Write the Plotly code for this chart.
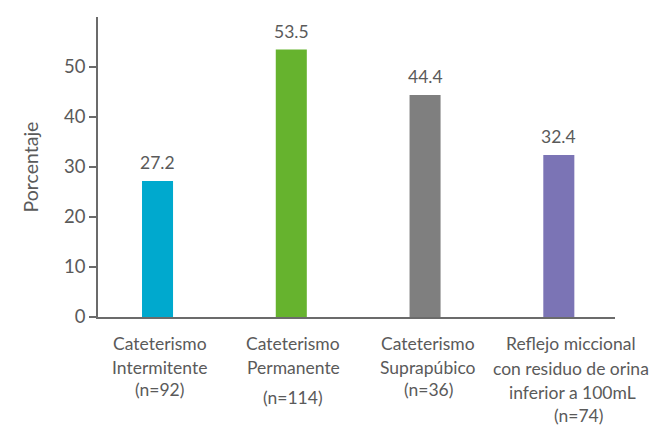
import plotly.graph_objects as go

categories = ["Cateterismo Intermitente", "Cateterismo Permanente",
              "Cateterismo Suprapúbico", "Reflejo miccional con residuo de orina inferior a 100mL"]
label_lines = [
    ["Cateterismo", "Intermitente", "(n=92)"],
    ["Cateterismo", "Permanente", "(n=114)"],
    ["Cateterismo", "Suprapúbico", "(n=36)"],
    ["Reflejo miccional", "con residuo de orina", "inferior a 100mL", "(n=74)"],
]
values = [27.2, 53.5, 44.4, 32.4]
colors = ["#00A9CE", "#66B32E", "#7F7F7F", "#7B74B5"]
yticks = [0, 10, 20, 30, 40, 50]

TXT = "#5a5a5a"
FONT = "Lato"

xs = list(range(len(categories)))
fig = go.Figure(go.Bar(x=xs, y=values, marker_color=colors, width=0.232,
                       marker_line_width=0, hoverinfo="skip"))

annotations = []
for i, v in enumerate(values):
    annotations.append(dict(x=i, y=v, xref="x", yref="y", text=f"{v:.1f}",
                            showarrow=False, yanchor="bottom", yshift=6,
                            font=dict(family=FONT, size=17.5, color=TXT)))

# per-line positions (pixel offsets below the baseline)
line_offsets = [
    [26, 50, 72],
    [26, 50, 80],
    [26, 50, 72],
    [26, 51, 75, 98],
]
x_shifts = [
    [2, 2, 2],
    [2, 2, 2],
    [3, 3, 3],
    [12, 12, 14, 20],
]
for i, lines in enumerate(label_lines):
    for j, t in enumerate(lines):
        annotations.append(dict(x=i, y=0, xref="x", yref="y", text=t,
                                showarrow=False, yanchor="middle",
                                yshift=-line_offsets[i][j], xshift=x_shifts[i][j],
                                font=dict(family=FONT, size=17.5, color=TXT)))

fig.update_layout(
    width=651, height=427,
    margin=dict(l=90, r=44, t=9, b=118),
    paper_bgcolor="white", plot_bgcolor="white",
    showlegend=False,
    annotations=annotations,
    xaxis=dict(range=[-0.445, 3.42], showticklabels=False, ticks="",
               showline=True, linecolor="#6b6b6b", linewidth=1.5,
               showgrid=False, zeroline=False, fixedrange=True, automargin=False),
    yaxis=dict(range=[0, 60], tickvals=yticks, ticks="outside", ticklen=7,
               tickcolor="#6b6b6b", tickwidth=1.5,
               showline=True, linecolor="#6b6b6b", linewidth=1.5,
               showgrid=False, zeroline=False, automargin=False,
               tickfont=dict(family=FONT, size=18.5, color=TXT),
               title=dict(text="Porcentaje", standoff=20,
                          font=dict(family=FONT, size=19.5, color=TXT))),
)

fig.write_html("out.html")
